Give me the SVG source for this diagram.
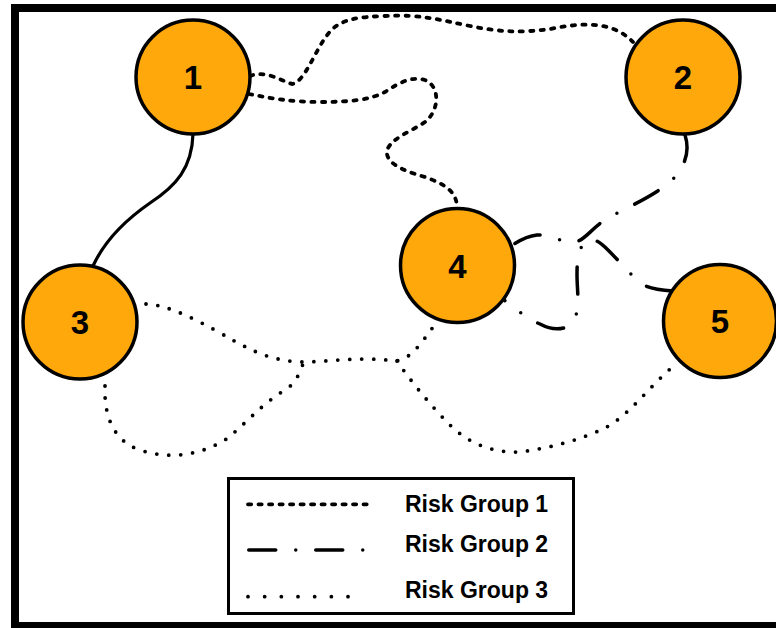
<svg xmlns="http://www.w3.org/2000/svg" width="776" height="628" viewBox="0 0 776 628">
  <style>
    .frame { fill: none; stroke: #000; stroke-width: 8; }
    .node circle { fill: #FFA80C; stroke: #000; stroke-width: 3.5; }
    .node text { font-family: "Liberation Sans", Arial, sans-serif; font-weight: bold; font-size: 33px; text-anchor: middle; fill: #000; }
    .link { fill: none; stroke: #000; stroke-width: 3.5; }
    .solid { stroke-width: 3.2; }
    .rg1 { stroke-width: 3.8; stroke-dasharray: 3.2 7.3; stroke-linecap: round; }
    .rg2 { stroke-dasharray: 27 20 0 20; stroke-linecap: round; }
    .rg3 { stroke-width: 3.8; stroke-dasharray: 0 12; stroke-linecap: round; }
    .legend-box { fill: #fff; stroke: #000; stroke-width: 3; }
    .legend-text { font-family: "Liberation Sans", Arial, sans-serif; font-weight: bold; font-size: 23px; fill: #000; }
  </style>

  <rect width="776" height="628" fill="#fff"/>
  <rect class="frame" x="15" y="8" width="800" height="618"/>

  <g id="connectors">
    <!-- physical link 1-3 -->
    <path class="link solid" d="M193,134 C192,168 176,186 150,203 C124,221 104,242 93,266"/>
    <!-- risk group 1 -->
    <path class="link rg1" d="M250,76 C265,70 280,80 292,84 C305,82 315,50 328,34 C340,18 360,17 385,16 C420,14 440,20 470,26 C500,32 520,33 550,29 C580,23 612,20 633,42"/>
    <path class="link rg1" d="M249,94 C270,98 290,102 320,102 C350,102 370,100 385,92 C400,82 412,76 425,80 C440,86 440,110 425,122 C410,132 392,138 387,150 C385,162 400,170 425,177 C445,184 458,192 457,210"/>
    <!-- risk group 2 -->
    <path class="link rg2" d="M685,135 C690,150 686,166 672,180 C655,196 625,208 605,220 C590,230 585,240 575,242 C565,244 550,234 537,235 C528,236 520,240 511,246"/>
    <path class="link rg2" d="M673,291 C660,290 650,289 640,283 C628,272 620,262 608,250 C600,242 592,236 585,242 C578,250 577,260 577,275 C577,290 580,305 575,318 C570,330 555,332 540,324 C530,320 520,313 503,299"/>
    <!-- risk group 3 -->
    <path class="link rg3" d="M146,304 C165,305 185,314 215,330 C245,347 265,360 300,362 C330,362 360,356 395,361 C410,360 420,345 436,323"/>
    <path class="link rg3" d="M105,386 C104,410 110,440 140,450 C170,460 200,455 225,440 C245,425 260,405 285,390 C298,382 300,370 304,362"/>
    <path class="link rg3" d="M397,361 C410,380 430,405 450,425 C470,445 495,453 520,452 C550,448 580,440 605,428 C630,415 650,385 676,364"/>
  </g>

  <g id="node-1" class="node">
    <circle cx="193" cy="77" r="57"/>
    <text x="193" y="89">1</text>
  </g>
  <g id="node-2" class="node">
    <circle cx="683" cy="77" r="57"/>
    <text x="683" y="89">2</text>
  </g>
  <g id="node-3" class="node">
    <circle cx="80" cy="322" r="57"/>
    <text x="80" y="334">3</text>
  </g>
  <g id="node-4" class="node">
    <circle cx="457.5" cy="265.5" r="57"/>
    <text x="457.5" y="277.5">4</text>
  </g>
  <g id="node-5" class="node">
    <circle cx="720" cy="321" r="56.5"/>
    <text x="720" y="333">5</text>
  </g>

  <g id="legend">
    <rect class="legend-box" x="228.5" y="478.5" width="345" height="135"/>
    <path class="link rg1" d="M248,504.3 H370"/>
    <path class="link rg2" d="M248.75,550 H366"/>
    <path class="link rg3" style="stroke-dasharray: 0 16.67" d="M248,596.7 H350"/>
    <text class="legend-text" x="405" y="512">Risk Group 1</text>
    <text class="legend-text" x="405" y="552">Risk Group 2</text>
    <text class="legend-text" x="405" y="598">Risk Group 3</text>
  </g>
</svg>
